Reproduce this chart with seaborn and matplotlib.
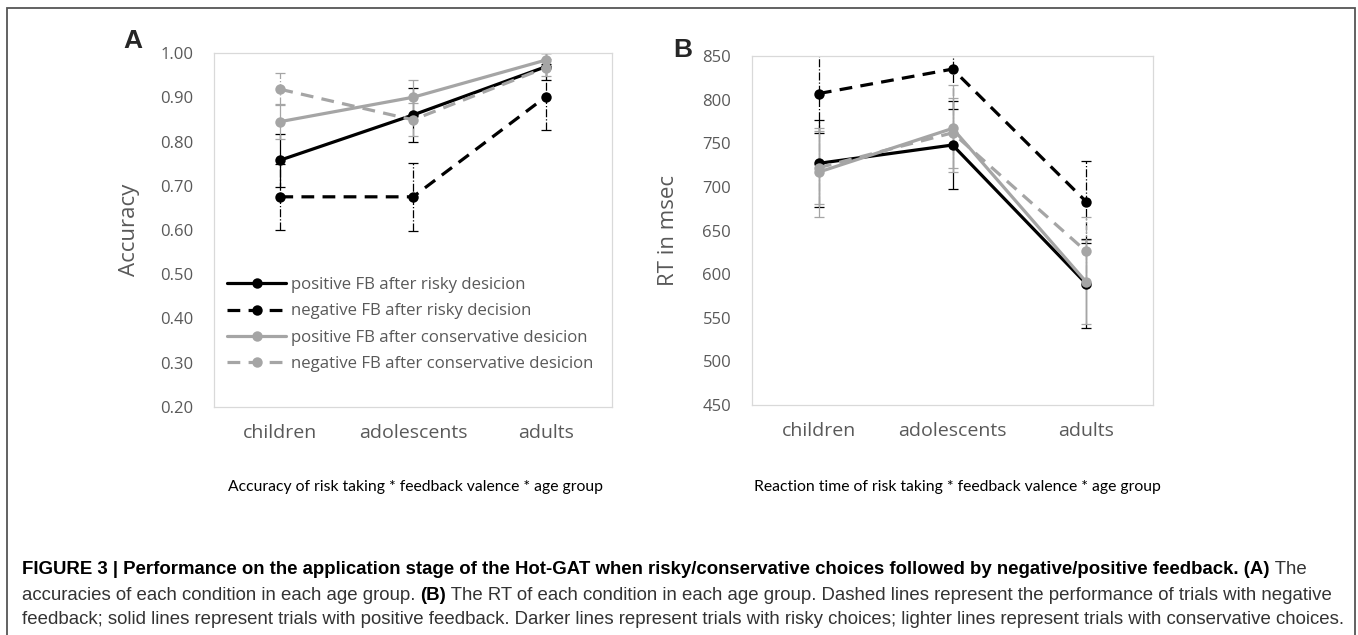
import numpy as np
import pandas as pd
import seaborn as sns
import matplotlib.pyplot as plt
from matplotlib.patches import Rectangle
from matplotlib.ticker import FormatStrFormatter

groups = ['children', 'adolescents', 'adults']
conds = ['positive FB after risky desicion',
         'negative FB after risky decision',
         'positive FB after conservative desicion',
         'negative FB after conservative desicion']

# accuracy panel (A)
acc_pos_risky = [0.758, 0.860, 0.969]
acc_neg_risky = [0.675, 0.675, 0.901]
acc_pos_cons = [0.845, 0.900, 0.984]
acc_neg_cons = [0.918, 0.849, 0.967]
acc_err_pos_risky = [0.060, 0.061, 0.030]
acc_err_neg_risky = [0.075, 0.077, 0.075]
acc_err_pos_cons = [0.040, 0.038, 0.015]
acc_err_neg_cons = [0.036, 0.037, 0.020]

# reaction time panel (B)
rt_pos_risky = [727, 748, 589]
rt_neg_risky = [807, 835, 683]
rt_pos_cons = [717, 767, 591]
rt_neg_cons = [722, 762, 626]
rt_err_pos_risky = [50, 51, 51]
rt_err_neg_risky = [45, 46, 47]
rt_err_pos_cons = [51, 50, 48]
rt_err_neg_cons = [42, 40, 40]

BLACK = '#000000'
GRAY = '#a5a5a5'
TXT = '#595959'
palette = {conds[0]: BLACK, conds[1]: BLACK, conds[2]: GRAY, conds[3]: GRAY}
dashes = {conds[0]: '', conds[1]: (4, 2.6), conds[2]: '', conds[3]: (4, 2.6)}
markers = {c: 'o' for c in conds}
err_ls = {conds[0]: '-', conds[1]: '-.', conds[2]: '-', conds[3]: '-.'}


def long_df(series):
    rows = []
    for c, vals in zip(conds, series):
        for g, v in zip(groups, vals):
            rows.append({'group': g, 'cond': c, 'value': v})
    return pd.DataFrame(rows)


def draw_panel(ax, series, errs, ylim, yticks, fmt, ylabel, lpad):
    df = long_df(series)
    sns.lineplot(data=df, x='group', y='value', hue='cond', style='cond',
                 palette=palette, dashes=dashes, markers=markers,
                 hue_order=conds, style_order=conds,
                 lw=2.3, markersize=7.5, markeredgewidth=0,
                 legend=False, ax=ax, zorder=3)
    for c, vals, e in zip(conds, series, errs):
        eb = ax.errorbar(np.arange(len(groups)), vals, yerr=e, fmt='none',
                         ecolor=palette[c], elinewidth=0.9, capsize=3.5,
                         capthick=0.9, zorder=2)
        eb[2][0].set_linestyle(err_ls[c])
    ax.set_xlim(-0.5, 2.5)
    ax.set_ylim(*ylim)
    ax.set_yticks(yticks)
    ax.yaxis.set_major_formatter(FormatStrFormatter(fmt))
    ax.set_xlabel('')
    ax.set_ylabel(ylabel, fontsize=16, color=TXT, family='Open Sans', labelpad=lpad)
    ax.tick_params(length=0, colors=TXT)
    ax.tick_params(axis='x', labelsize=14, pad=12)
    ax.tick_params(axis='y', labelsize=12, pad=15)
    for lab in ax.get_xticklabels() + ax.get_yticklabels():
        lab.set_family('Open Sans')
    for s in ax.spines.values():
        s.set_color('#d9d9d9')
        s.set_linewidth(0.9)
    ax.grid(False)


sns.set_theme(style='white')
plt.rcParams['font.family'] = ['Open Sans', 'DejaVu Sans']

fig = plt.figure(figsize=(13.58, 6.35), dpi=100)
ax1 = fig.add_axes([0.1576, 0.3591, 0.2931, 0.5574])
ax2 = fig.add_axes([0.5538, 0.3622, 0.2953, 0.5496])

draw_panel(ax1, [acc_pos_risky, acc_neg_risky, acc_pos_cons, acc_neg_cons],
           [acc_err_pos_risky, acc_err_neg_risky, acc_err_pos_cons, acc_err_neg_cons],
           (0.2, 1.0), np.arange(0.2, 1.01, 0.1), '%.2f', 'Accuracy', 14)
draw_panel(ax2, [rt_pos_risky, rt_neg_risky, rt_pos_cons, rt_neg_cons],
           [rt_err_pos_risky, rt_err_neg_risky, rt_err_pos_cons, rt_err_neg_cons],
           (450, 850), np.arange(450, 851, 50), '%d', 'RT in msec', 17)

handles = ax1.get_lines()[:4]
leg = ax1.legend(handles, conds, loc='upper left', bbox_to_anchor=(0.0, 0.405),
                 frameon=False, fontsize=12.1, handlelength=3.5,
                 handletextpad=0.3, labelspacing=0.62, borderpad=0.3)
for t in leg.get_texts():
    t.set_color(TXT)

fig.text(0.306, 0.233, 'Accuracy of risk taking * feedback valence * age group',
         ha='center', va='center', fontsize=11.3, family='Lato', color='black')
fig.text(0.705, 0.233, 'Reaction time of risk taking * feedback valence * age group',
         ha='center', va='center', fontsize=11.3, family='Lato', color='black')

fig.text(0.0906, 0.936, 'A', fontsize=19, fontweight='bold', family='Liberation Sans',
         ha='left', va='center')
fig.text(0.4961, 0.922, 'B', fontsize=19, fontweight='bold', family='Liberation Sans',
         ha='left', va='center')

# caption with mixed bold / regular runs
cap_fs = 13.4
cap_col = '#333333'
renderer = fig.canvas.get_renderer()


def run_line(parts, x0, y):
    x = x0
    for txt, bold in parts:
        t = fig.text(x, y, txt, fontsize=cap_fs, family='Liberation Sans',
                     fontweight='bold' if bold else 'normal',
                     color='black' if bold else cap_col, ha='left', va='center')
        w = t.get_window_extent(renderer=renderer).width
        x += w / fig.bbox.width


x_cap = 22 / 1358
run_line([('FIGURE 3 | Performance on the application stage of the Hot-GAT when risky/conservative '
           'choices followed by negative/positive feedback. (A)', True), (' The', False)],
         x_cap, 1 - 570 / 635)
run_line([('accuracies of each condition in each age group. ', False), ('(B)', True),
          (' The RT of each condition in each age group. Dashed lines represent the performance '
           'of trials with negative', False)], x_cap, 1 - 595 / 635)
run_line([('feedback; solid lines represent trials with positive feedback. Darker lines represent '
           'trials with risky choices; lighter lines represent trials with conservative choices.',
           False)], x_cap, 1 - 619 / 635)

fig.patches.append(Rectangle((7 / 1358, -0.05), (1355 - 7) / 1358, 1.0374,
                             transform=fig.transFigure, fill=False,
                             edgecolor='#555555', lw=1.3, clip_on=False))

fig.savefig('out.png', dpi=100)
